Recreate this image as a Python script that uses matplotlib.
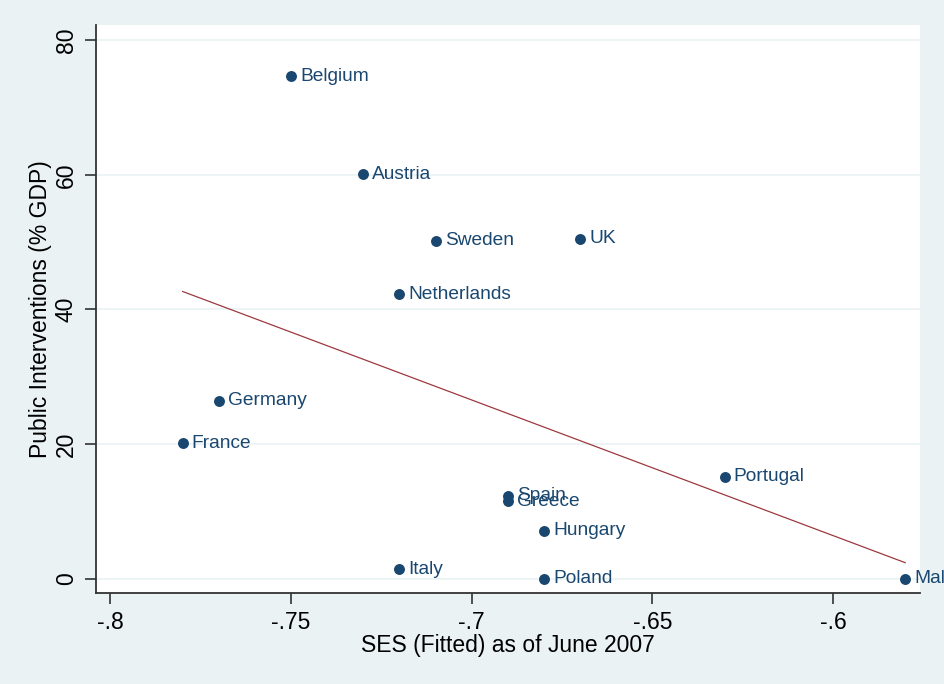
import numpy as np
import matplotlib.pyplot as plt

# data
countries = ["Belgium", "Austria", "Sweden", "UK", "Netherlands", "Germany", "France",
             "Portugal", "Spain", "Greece", "Hungary", "Italy", "Poland", "Malta"]
ses = [-0.75, -0.73, -0.71, -0.67, -0.72, -0.77, -0.78,
       -0.63, -0.69, -0.69, -0.68, -0.72, -0.68, -0.58]
interventions = [74.7, 60.1, 50.2, 50.5, 42.3, 26.4, 20.1,
                 15.1, 12.3, 11.5, 7.1, 1.4, 0.0, 0.0]
xticks = [-0.8, -0.75, -0.7, -0.65, -0.6]
xticklabels = ["-.8", "-.75", "-.7", "-.65", "-.6"]
yticks = [0, 20, 40, 60, 80]

navy = "#1a476f"
bg = "#eaf2f3"

plt.rcParams["font.family"] = ["Liberation Sans", "DejaVu Sans"]

fig = plt.figure(figsize=(9.44, 6.84), dpi=100, facecolor=bg)
ax = fig.add_axes([0.1017, 0.1335, 0.8729, 0.83])
ax.set_facecolor("white")

# linear fit line
x = np.array(ses)
y = np.array(interventions)
slope, icpt = np.polyfit(x, y, 1)
xs = np.array([x.min(), x.max()])
ax.plot(xs, icpt + slope * xs, color="#9a3a40", lw=0.9, zorder=2)

ax.scatter(x, y, s=62, color=navy, zorder=3, linewidths=0)
for name, xi, yi in zip(countries, ses, interventions):
    ax.annotate(name, (xi, yi), xytext=(6.5, 0), textcoords="offset points",
                va="center", ha="left", fontsize=13.8, color=navy,
                annotation_clip=False)

ax.set_xlim(-0.804, -0.5759)
ax.set_ylim(-2.1, 82.3)
ax.set_xticks(xticks)
ax.set_xticklabels(xticklabels)
ax.set_yticks(yticks)
ax.set_yticklabels([str(t) for t in yticks], rotation=90, va="center")
ax.tick_params(axis="both", labelsize=16.5, length=8, width=1.2, color="#333333",
               labelcolor="black", pad=5)

ax.grid(axis="y", color=bg, lw=1.2)
ax.set_axisbelow(True)
for side in ["top", "right"]:
    ax.spines[side].set_visible(False)
for side in ["left", "bottom"]:
    ax.spines[side].set_linewidth(1.3)
    ax.spines[side].set_color("#333333")

ax.set_xlabel("SES (Fitted) as of June 2007", fontsize=16.5, labelpad=0)
ax.set_ylabel("Public Interventions (% GDP)", fontsize=16.5, labelpad=2)

fig.savefig("out.png", dpi=100, facecolor=bg)
